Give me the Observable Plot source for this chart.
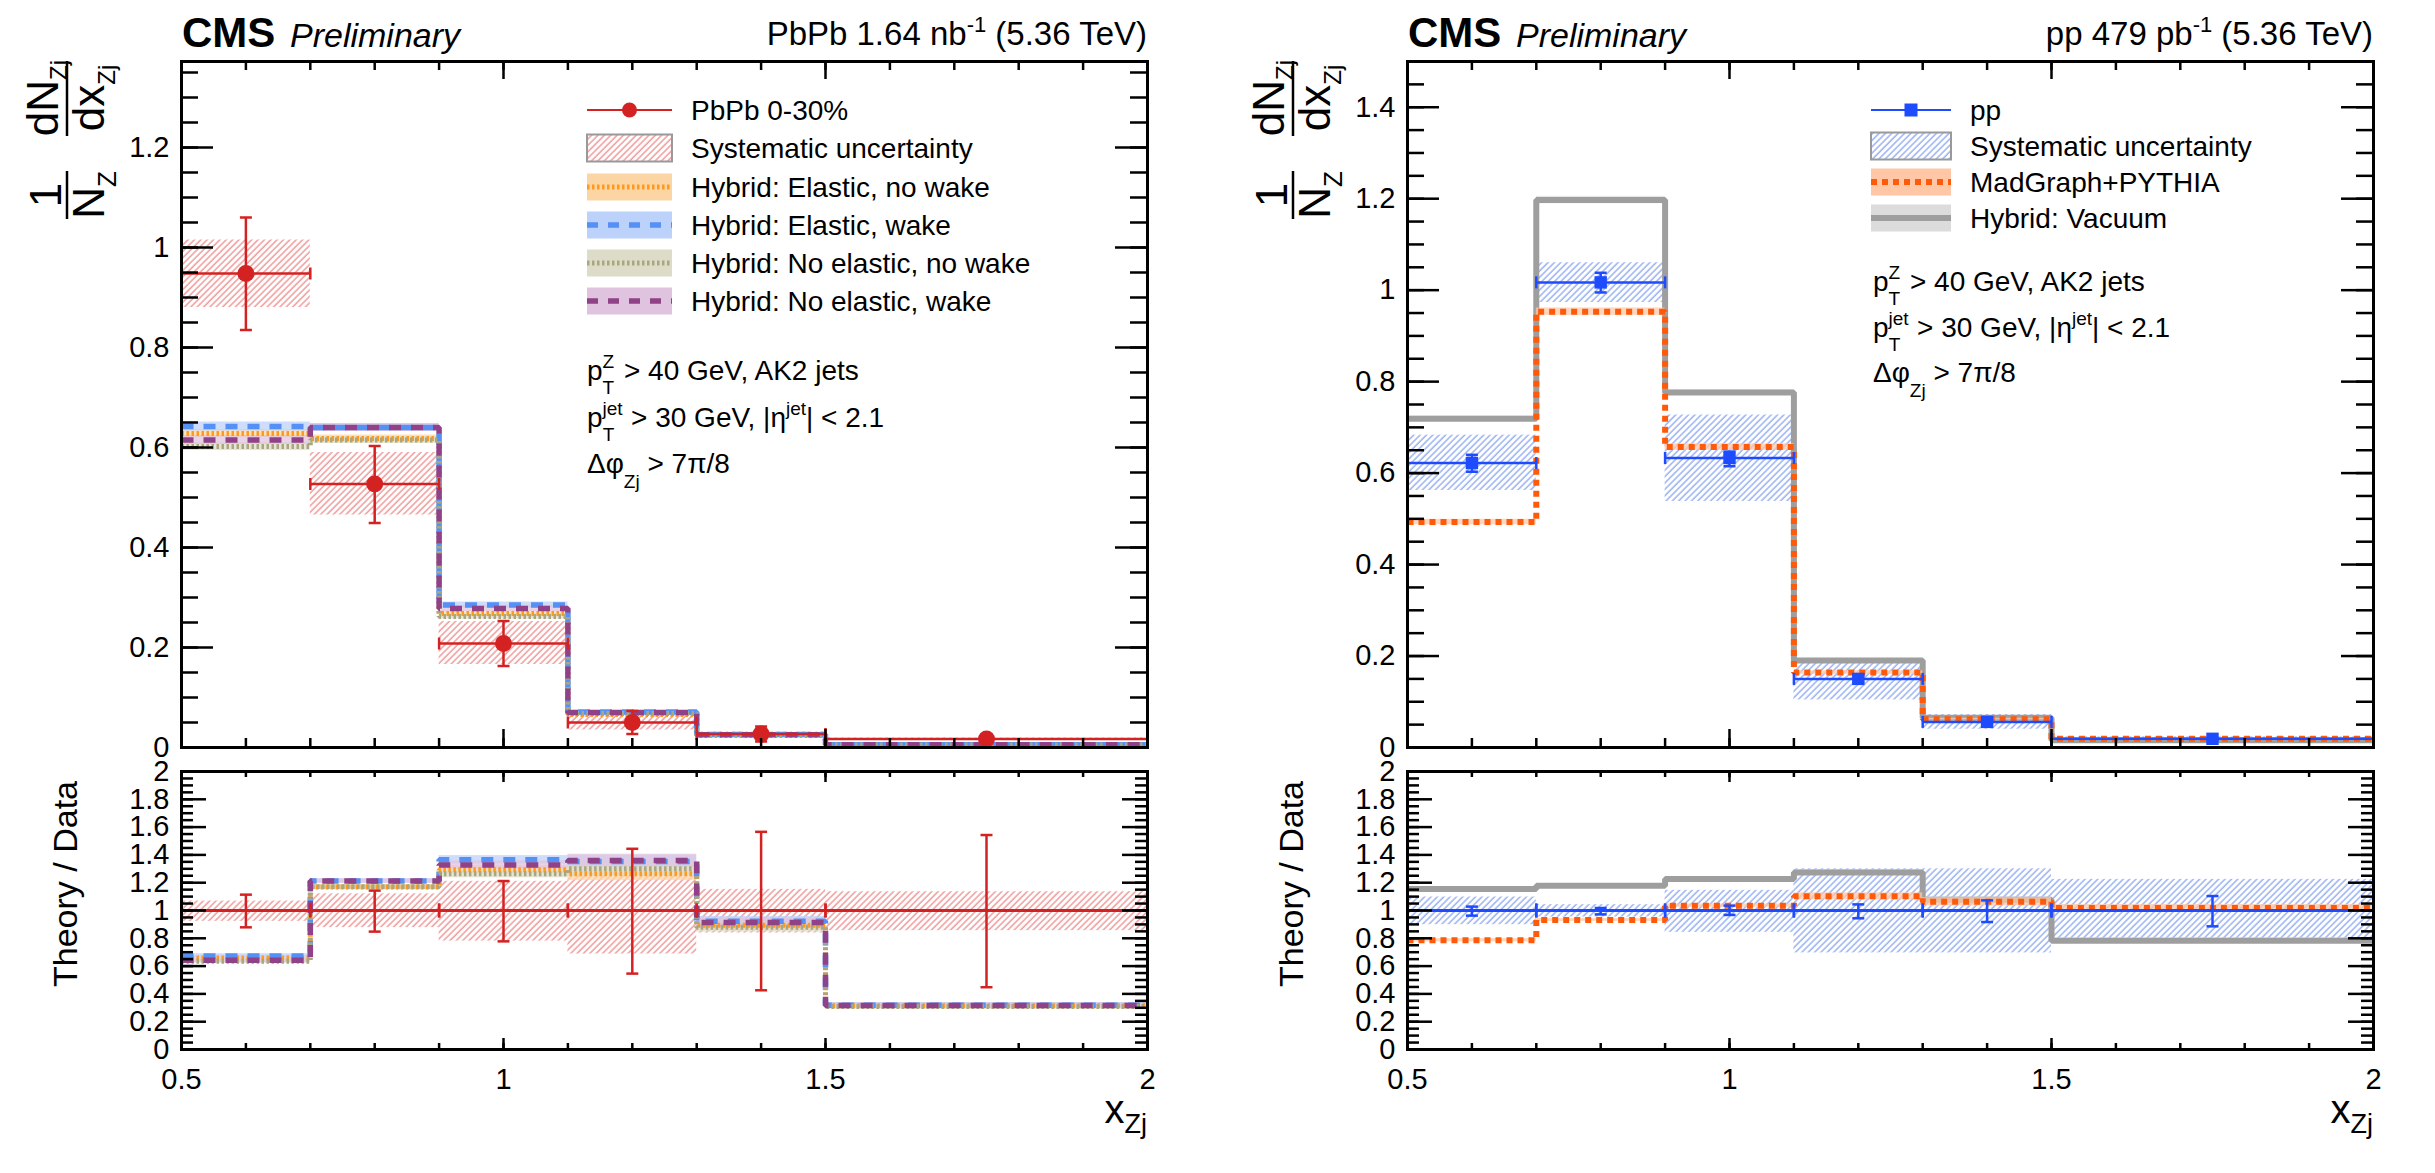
<!DOCTYPE html>
<html>
<head>
<meta charset="utf-8">
<script src="https://cdn.jsdelivr.net/npm/d3@7"></script>
<script src="https://cdn.jsdelivr.net/npm/@observablehq/plot@0.6"></script>
<style>
  body { margin: 0; background: #fff; }
  #page { position: relative; width: 2435px; height: 1173px; overflow: hidden; background: #fff; }
  .pane { position: absolute; }
  svg text { font-family: "Liberation Sans", Arial, Helvetica, sans-serif; }
</style>
</head>
<body>
<svg width="0" height="0" style="position:absolute">
  <defs>
    <pattern id="hatchRed" patternUnits="userSpaceOnUse" width="4.5" height="4.5" patternTransform="rotate(45)">
      <line x1="1" y1="0" x2="1" y2="4.5" stroke="#ee8c8c" stroke-width="1.3"/>
    </pattern>
    <pattern id="hatchBlue" patternUnits="userSpaceOnUse" width="4.5" height="4.5" patternTransform="rotate(45)">
      <line x1="1" y1="0" x2="1" y2="4.5" stroke="#8aa6f2" stroke-width="1.3"/>
    </pattern>
  </defs>
</svg>
<div id="page"></div>
<script>
// ---------------- data ----------------
const edges   = [0.5, 0.7, 0.9, 1.1, 1.3, 1.5, 2.0];
const centers = [0.6, 0.8, 1.0, 1.2, 1.4, 1.75];
const xTickLabels = [0.5, 1, 1.5, 2];

// PbPb 0-30%
const pbpb            = [0.948, 0.527, 0.208, 0.050, 0.027, 0.017];
const pbpbStatLo      = [0.835, 0.449, 0.163, 0.027, 0.012, 0.008];
const pbpbStatHi      = [1.060, 0.603, 0.253, 0.073, 0.042, 0.026];
const pbpbSysLo       = [0.880, 0.465, 0.166, 0.035, 0.023, 0.0145];
const pbpbSysHi       = [1.015, 0.590, 0.252, 0.063, 0.031, 0.019];
const pbpbRatioStatLo = [0.879, 0.848, 0.778, 0.546, 0.426, 0.448];
const pbpbRatioStatHi = [1.114, 1.143, 1.212, 1.444, 1.566, 1.543];
const pbpbRatioSysLo  = [0.922, 0.877, 0.780, 0.687, 0.838, 0.855];
const pbpbRatioSysHi  = [1.068, 1.120, 1.210, 1.270, 1.152, 1.135];

// Hybrid model predictions (PbPb)
const elasticNoWake      = [0.628, 0.618, 0.268, 0.066, 0.025, 0.0055];
const elasticWake        = [0.642, 0.640, 0.285, 0.071, 0.026, 0.0056];
const noElasticNoWake    = [0.602, 0.615, 0.262, 0.068, 0.024, 0.0052];
const noElasticWake      = [0.615, 0.640, 0.278, 0.070, 0.0255, 0.0054];
const elasticNoWakeErr   = [0.008, 0.007, 0.005, 0.003, 0.0015, 0.0008];
const elasticWakeErr     = [0.009, 0.008, 0.006, 0.003, 0.0015, 0.0008];
const noElasticNoWakeErr = [0.008, 0.007, 0.005, 0.003, 0.0015, 0.0008];
const noElasticWakeErr   = [0.009, 0.008, 0.006, 0.003, 0.0015, 0.0008];
// Theory / Data (PbPb)
const elasticNoWakeRatio      = [0.659, 1.169, 1.293, 1.265, 0.893, 0.315];
const elasticWakeRatio        = [0.673, 1.212, 1.365, 1.353, 0.922, 0.318];
const noElasticNoWakeRatio    = [0.635, 1.170, 1.265, 1.300, 0.880, 0.310];
const noElasticWakeRatio      = [0.642, 1.212, 1.327, 1.360, 0.913, 0.316];
const elasticNoWakeRatioErr   = [0.016, 0.016, 0.030, 0.050, 0.035, 0.020];
const elasticWakeRatioErr     = [0.016, 0.016, 0.030, 0.045, 0.035, 0.020];
const noElasticNoWakeRatioErr = [0.016, 0.016, 0.030, 0.050, 0.035, 0.020];
const noElasticWakeRatioErr   = [0.016, 0.016, 0.030, 0.045, 0.035, 0.020];

// pp
const pp            = [0.622, 1.017, 0.633, 0.150, 0.056, 0.019];
const ppStatLo      = [0.603, 0.995, 0.615, 0.143, 0.052, 0.017];
const ppStatHi      = [0.640, 1.038, 0.647, 0.157, 0.060, 0.021];
const ppSysLo       = [0.562, 0.973, 0.538, 0.104, 0.040, 0.0151];
const ppSysHi       = [0.683, 1.060, 0.727, 0.192, 0.072, 0.0233];
const ppRatioStatLo = [0.963, 0.972, 0.968, 0.944, 0.917, 0.886];
const ppRatioStatHi = [1.028, 1.018, 1.035, 1.044, 1.073, 1.104];
const ppRatioSysLo  = [0.898, 0.953, 0.843, 0.695, 0.695, 0.795];
const ppRatioSysHi  = [1.097, 1.042, 1.145, 1.300, 1.300, 1.224];

const madgraph         = [0.493, 0.953, 0.657, 0.164, 0.062, 0.019];
const madgraphErr      = [0.006, 0.008, 0.007, 0.004, 0.002, 0.001];
const madgraphRatio    = [0.786, 0.932, 1.035, 1.102, 1.063, 1.018];
const madgraphRatioErr = [0.012, 0.010, 0.012, 0.025, 0.030, 0.025];
const vacuum           = [0.719, 1.197, 0.776, 0.190, 0.065, 0.016];
const vacuumErr        = [0.006, 0.008, 0.006, 0.003, 0.002, 0.001];
const vacuumRatio      = [1.154, 1.178, 1.226, 1.274, 1.078, 0.783];
const vacuumRatioErr   = [0.012, 0.012, 0.012, 0.020, 0.020, 0.020];

// ---------------- styles ----------------
const FONT = '"Liberation Sans", Arial, Helvetica, sans-serif';
const C = {
  red: "#d42222", orange: "#ff9a1f", orangeBand: "#fcd5a5",
  blue: "#5590f5", blueBand: "#bcd2fa", olive: "#a9a77f", oliveBand: "#dddcc8",
  purple: "#8f4288", purpleBand: "#e0c4df", pp: "#1f4bff",
  mg: "#ff5a0a", mgBand: "#ffc7a6", hv: "#9e9e9e", hvBand: "#dcdcdc"
};

const bins = d3.range(centers.length);
const steps = vals => [...bins.map(i => ({x: edges[i], y: vals[i]})), {x: edges[edges.length - 1], y: vals[vals.length - 1]}];

const hLine = {draw(ctx, size) { const r = Math.sqrt(size / Math.PI); ctx.moveTo(-r, 0); ctx.lineTo(r, 0); }};
const vLine = {draw(ctx, size) { const r = Math.sqrt(size / Math.PI); ctx.moveTo(0, -r); ctx.lineTo(0, r); }};

const boxes = (lo, hi, fill, extra = {}) =>
  Plot.rect(bins, {x1: i => edges[i], x2: i => edges[i + 1], y1: i => lo[i], y2: i => hi[i], fill, ...extra});
const band = (v, e, fill) =>
  Plot.rect(bins, {x1: i => edges[i], x2: i => edges[i + 1], y1: i => v[i] - e[i], y2: i => v[i] + e[i], fill, fillOpacity: 0.75});
const step = (v, stroke, strokeWidth, strokeDasharray) =>
  Plot.line(steps(v), {x: "x", y: "y", curve: "step-after", stroke, strokeWidth, strokeDasharray, strokeLinecap: "butt", strokeLinejoin: "miter"});

function dataPoints(val, lo, hi, color, markerOpts) {
  const ew = {stroke: color, strokeWidth: 2.5};
  const marks = [
    Plot.ruleX(bins, {x: i => centers[i], y1: i => lo[i], y2: i => hi[i], ...ew}),
    Plot.dot(bins, {x: i => centers[i], y: i => lo[i], symbol: hLine, r: 6, fill: "none", ...ew}),
    Plot.dot(bins, {x: i => centers[i], y: i => hi[i], symbol: hLine, r: 6, fill: "none", ...ew})
  ];
  if (val) {
    marks.push(
      Plot.ruleY(bins, {y: i => val[i], x1: i => edges[i], x2: i => edges[i + 1], ...ew}),
      Plot.dot(bins, {x: i => edges[i], y: i => val[i], symbol: vLine, r: 6, fill: "none", ...ew}),
      Plot.dot(bins, {x: i => edges[i + 1], y: i => val[i], symbol: vLine, r: 6, fill: "none", ...ew}),
      Plot.dot(bins, {x: i => centers[i], y: i => val[i], fill: color, stroke: "none", ...markerOpts})
    );
  }
  return marks;
}
function ratioLine(lo, hi, color) {
  const ew = {stroke: color, strokeWidth: 2.5};
  return [
    Plot.ruleY([1], {stroke: color, strokeWidth: 3}),
    Plot.dot(bins, {x: i => edges[i], y: () => 1, symbol: vLine, r: 7, fill: "none", ...ew}),
    Plot.dot(bins, {x: i => edges[i + 1], y: () => 1, symbol: vLine, r: 7, fill: "none", ...ew}),
    ...dataPoints(null, lo, hi, color)
  ];
}

function panel({width, height, ml, mr, mt, mb, ymax, yMajor, yMinorN, yMaj, yMin, xMaj, xMin, xLabels, marks}) {
  const W = width - ml - mr, H = height - mt - mb;
  const fmt = d => String(Math.round(d * 100) / 100);
  const yMinor = d3.range(0, yMinorN + 1).map(k => k * 0.05);
  const xMinor = d3.range(5, 21).map(k => k / 10);
  const tk = {stroke: "black", strokeWidth: 2.5};
  const deco = [
    Plot.tickY(yMinor, {y: d => d, insetRight: W - yMin, ...tk}),
    Plot.tickY(yMinor, {y: d => d, insetLeft: W - yMin, ...tk}),
    Plot.tickY(yMajor, {y: d => d, insetRight: W - yMaj, ...tk}),
    Plot.tickY(yMajor, {y: d => d, insetLeft: W - yMaj, ...tk}),
    Plot.tickX(xMinor, {x: d => d, insetTop: H - xMin, ...tk}),
    Plot.tickX(xMinor, {x: d => d, insetBottom: H - xMin, ...tk}),
    Plot.tickX(xTickLabels, {x: d => d, insetTop: H - xMaj, ...tk}),
    Plot.tickX(xTickLabels, {x: d => d, insetBottom: H - xMaj, ...tk}),
    Plot.axisY(yMajor, {tickSize: 0, tickPadding: 12, tickFormat: fmt, fontSize: 29, label: null, fill: "black"}),
    Plot.frame({stroke: "black", strokeWidth: 3})
  ];
  if (xLabels) deco.push(Plot.axisX(xTickLabels, {tickSize: 0, tickPadding: 19, tickFormat: fmt, fontSize: 29, label: null, fill: "black"}));
  return Plot.plot({
    width, height, marginLeft: ml, marginRight: mr, marginTop: mt, marginBottom: mb,
    x: {domain: [0.5, 2], axis: null},
    y: {domain: [0, ymax], axis: null},
    style: {fontFamily: FONT, background: "transparent", color: "black", overflow: "visible"},
    marks: [...marks, ...deco]
  });
}

const page = document.getElementById("page");
function place(node, left, top, w, h) {
  const d = document.createElement("div");
  d.className = "pane";
  Object.assign(d.style, {left: left + "px", top: top + "px", width: w + "px", height: h + "px"});
  d.appendChild(node);
  page.appendChild(d);
}

const mainGeom  = {height: 760, mt: 61, mb: 13, yMaj: 32, yMin: 17, xMaj: 18, xMin: 9};
const ratioGeom = {height: 433, mt: 31, mb: 124, yMaj: 25, yMin: 12, xMaj: 11, xMin: 6, ymax: 2,
                   yMajor: d3.range(0, 11).map(k => k * 0.2), yMinorN: 40};

// ---------- left main (PbPb) ----------
place(panel({
  width: 1200, ml: 181, mr: 53, ...mainGeom,
  ymax: 1.372, yMajor: d3.range(0, 7).map(k => k * 0.2), yMinorN: 27,
  marks: [
    boxes(pbpbSysLo, pbpbSysHi, "url(#hatchRed)"),
    band(elasticNoWake, elasticNoWakeErr, C.orangeBand),
    band(elasticWake, elasticWakeErr, C.blueBand),
    band(noElasticNoWake, noElasticNoWakeErr, C.oliveBand),
    band(noElasticWake, noElasticWakeErr, C.purpleBand),
    step(elasticNoWake, C.orange, 5, "2.5,2.5"),
    step(elasticWake, C.blue, 5.5, "12,10"),
    step(noElasticNoWake, C.olive, 5, "2.5,2.5"),
    step(noElasticWake, C.purple, 5.5, "12,10"),
    ...dataPoints(pbpb, pbpbStatLo, pbpbStatHi, C.red, {r: 8.5})
  ]
}), 0, 0, 1200, 760);

// ---------- left ratio ----------
place(panel({
  width: 1200, ml: 181, mr: 53, ...ratioGeom, xLabels: true,
  marks: [
    boxes(pbpbRatioSysLo, pbpbRatioSysHi, "url(#hatchRed)"),
    band(elasticNoWakeRatio, elasticNoWakeRatioErr, C.orangeBand),
    band(elasticWakeRatio, elasticWakeRatioErr, C.blueBand),
    band(noElasticNoWakeRatio, noElasticNoWakeRatioErr, C.oliveBand),
    band(noElasticWakeRatio, noElasticWakeRatioErr, C.purpleBand),
    step(elasticNoWakeRatio, C.orange, 5, "2.5,2.5"),
    step(elasticWakeRatio, C.blue, 5.5, "12,10"),
    step(noElasticNoWakeRatio, C.olive, 5, "2.5,2.5"),
    step(noElasticWakeRatio, C.purple, 5.5, "12,10"),
    ...ratioLine(pbpbRatioStatLo, pbpbRatioStatHi, C.red)
  ]
}), 0, 740, 1200, 433);

// ---------- right main (pp) ----------
place(panel({
  width: 1205, ml: 177, mr: 62, ...mainGeom,
  ymax: 1.5, yMajor: d3.range(0, 8).map(k => k * 0.2), yMinorN: 30,
  marks: [
    boxes(ppSysLo, ppSysHi, "url(#hatchBlue)"),
    band(vacuum, vacuumErr, C.hvBand),
    step(vacuum, C.hv, 6, null),
    band(madgraph, madgraphErr, C.mgBand),
    step(madgraph, C.mg, 6, "6,5"),
    ...dataPoints(pp, ppStatLo, ppStatHi, C.pp, {r: 7, symbol: "square"})
  ]
}), 1230, 0, 1205, 760);

// ---------- right ratio ----------
place(panel({
  width: 1205, ml: 177, mr: 62, ...ratioGeom, xLabels: true,
  marks: [
    boxes(ppRatioSysLo, ppRatioSysHi, "url(#hatchBlue)"),
    band(vacuumRatio, vacuumRatioErr, C.hvBand),
    step(vacuumRatio, C.hv, 6, null),
    band(madgraphRatio, madgraphRatioErr, C.mgBand),
    step(madgraphRatio, C.mg, 6, "6,5"),
    ...ratioLine(ppRatioStatLo, ppRatioStatHi, C.pp)
  ]
}), 1230, 740, 1205, 433);

// ---------------- text, titles and legends ----------------
const S = 19; // script size
function yTitle(ox) {
  return `<g transform="translate(${ox},0) rotate(-90)" font-size="44" fill="black">
    <text x="-195" y="61" text-anchor="middle">1</text>
    <line x1="-219" x2="-171" y1="67" y2="67" stroke="black" stroke-width="2.5"/>
    <text x="-195" y="104" text-anchor="middle">N<tspan font-size="26" dy="12">Z</tspan></text>
    <text x="-98" y="58" text-anchor="middle">dN<tspan font-size="24" dy="9">Zj</tspan></text>
    <line x1="-136" x2="-61" y1="67" y2="67" stroke="black" stroke-width="2.5"/>
    <text x="-98" y="104" text-anchor="middle">dx<tspan font-size="24" dy="11">Zj</tspan></text>
  </g>
  <text transform="translate(${ox + 77},884) rotate(-90)" text-anchor="middle" font-size="34">Theory / Data</text>`;
}
function header(x0, x1, label) {
  return `<text x="${x0}" y="47" font-size="42" font-weight="bold">CMS</text>
  <text x="${x0 + 108}" y="47" font-size="34" font-style="italic">Preliminary</text>
  <text x="${x1}" y="45" font-size="33" text-anchor="end">${label}</text>
  <text x="${x1}" y="1123" font-size="40" text-anchor="end">x<tspan font-size="27" dy="10">Zj</tspan></text>`;
}
function cuts(x, ys) {
  return `<g font-size="28">
  <text x="${x}" y="${ys[0]}">p<tspan font-size="${S}" dy="-12">Z</tspan><tspan font-size="${S}" dx="-11.6" dy="26">T</tspan><tspan dy="-14" dx="2"> &gt; 40 GeV, AK2 jets</tspan></text>
  <text x="${x}" y="${ys[1]}">p<tspan font-size="${S}" dy="-12">jet</tspan><tspan font-size="${S}" dx="-20" dy="26">T</tspan><tspan dy="-14" dx="9"> &gt; 30 GeV, |η</tspan><tspan font-size="${S}" dy="-12">jet</tspan><tspan dy="12">| &lt; 2.1</tspan></text>
  <text x="${x}" y="${ys[2]}">Δφ<tspan font-size="${S}" dy="15">Zj</tspan><tspan dy="-15"> &gt; 7π/8</tspan></text>
  </g>`;
}
function swatchBand(x0, x1, y, fill, stroke, sw, dash) {
  return `<rect x="${x0}" y="${y - 13.5}" width="${x1 - x0}" height="27" fill="${fill}"/>
  <line x1="${x0}" x2="${x1}" y1="${y}" y2="${y}" stroke="${stroke}" stroke-width="${sw}" ${dash ? `stroke-dasharray="${dash}"` : ""}/>`;
}
function legendText(x, y, t) { return `<text x="${x}" y="${y + 10}" font-size="28">${t}</text>`; }

// left legend
const lx0 = 587, lx1 = 672, ltx = 691, lRows = [110, 148, 187, 225, 263, 301];
let leftLegend = `
  <line x1="${lx0}" x2="${lx1}" y1="${lRows[0]}" y2="${lRows[0]}" stroke="${C.red}" stroke-width="2"/>
  <circle cx="${(lx0 + lx1) / 2}" cy="${lRows[0]}" r="7.5" fill="${C.red}"/>
  ${legendText(ltx, lRows[0], "PbPb 0-30%")}
  <rect x="${lx0}" y="${lRows[1] - 13.5}" width="${lx1 - lx0}" height="27" fill="url(#hatchRed)" stroke="#999" stroke-width="2"/>
  ${legendText(ltx, lRows[1], "Systematic uncertainty")}
  ${swatchBand(lx0, lx1, lRows[2], C.orangeBand, C.orange, 5, "2.5,2.5")}
  ${legendText(ltx, lRows[2], "Hybrid: Elastic, no wake")}
  ${swatchBand(lx0, lx1, lRows[3], C.blueBand, C.blue, 5.5, "11,10")}
  ${legendText(ltx, lRows[3], "Hybrid: Elastic, wake")}
  ${swatchBand(lx0, lx1, lRows[4], C.oliveBand, C.olive, 5, "2.5,2.5")}
  ${legendText(ltx, lRows[4], "Hybrid: No elastic, no wake")}
  ${swatchBand(lx0, lx1, lRows[5], C.purpleBand, C.purple, 5.5, "11,10")}
  ${legendText(ltx, lRows[5], "Hybrid: No elastic, wake")}`;

// right legend
const rx0 = 1871, rx1 = 1951, rtx = 1970, rRows = [110, 146, 182, 218];
let rightLegend = `
  <line x1="${rx0}" x2="${rx1}" y1="${rRows[0]}" y2="${rRows[0]}" stroke="${C.pp}" stroke-width="2"/>
  <rect x="${(rx0 + rx1) / 2 - 6.5}" y="${rRows[0] - 6.5}" width="13" height="13" fill="${C.pp}"/>
  ${legendText(rtx, rRows[0], "pp")}
  <rect x="${rx0}" y="${rRows[1] - 13.5}" width="${rx1 - rx0}" height="27" fill="url(#hatchBlue)" stroke="#999" stroke-width="2"/>
  ${legendText(rtx, rRows[1], "Systematic uncertainty")}
  ${swatchBand(rx0, rx1, rRows[2], C.mgBand, C.mg, 6, "6,5")}
  ${legendText(rtx, rRows[2], "MadGraph+PYTHIA")}
  ${swatchBand(rx0, rx1, rRows[3], C.hvBand, C.hv, 6, null)}
  ${legendText(rtx, rRows[3], "Hybrid: Vacuum")}`;

const overlay = document.createElementNS("http://www.w3.org/2000/svg", "svg");
overlay.setAttribute("width", 2435);
overlay.setAttribute("height", 1173);
overlay.setAttribute("style", "position:absolute;left:0;top:0;pointer-events:none;");
overlay.innerHTML = `
  <g fill="black">
  ${header(182, 1147, `PbPb 1.64 nb<tspan font-size="22" dy="-13">-1</tspan><tspan dy="13"> (5.36 TeV)</tspan>`)}
  ${header(1408, 2373, `pp 479 pb<tspan font-size="22" dy="-13">-1</tspan><tspan dy="13"> (5.36 TeV)</tspan>`)}
  ${yTitle(0)}
  ${yTitle(1226)}
  ${leftLegend}
  ${rightLegend}
  ${cuts(587, [380, 427, 473])}
  ${cuts(1873, [291, 337, 382])}
  </g>`;
page.appendChild(overlay);
</script>
</body>
</html>
